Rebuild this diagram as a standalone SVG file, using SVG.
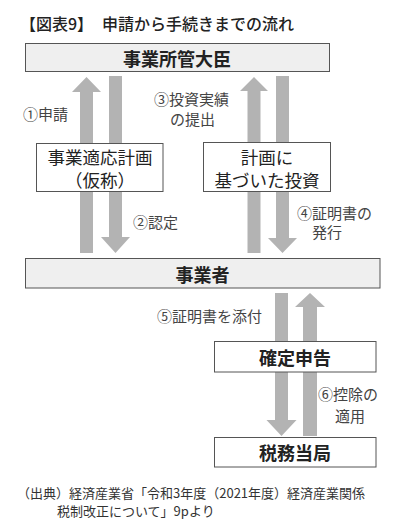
<svg xmlns="http://www.w3.org/2000/svg" width="400" height="532" viewBox="0 0 400 532">
<style>
text{font-family:"Noto Sans CJK JP","Noto Sans",sans-serif;dominant-baseline:central}
.title{font-size:16px;fill:#222;font-weight:500}
.bx{stroke:#555;stroke-width:1}
.gray{fill:#efefef}
.white{fill:#fff}
.bt{font-size:18px;font-weight:bold;fill:#222;text-anchor:middle}
.rt{font-size:17.5px;fill:#222;text-anchor:middle}
.lb{font-size:15px;fill:#444}
.ar{fill:#b3b3b3}
.ft{font-size:13px;fill:#333}
</style>
<text class="title" y="23"><tspan x="20">【図表9】</tspan><tspan x="102">申請から手続きまでの流れ</tspan></text>
<g id="connectors">
<polygon class="ar" points="86.5,77 101,92 93,92 93,253 80,253 80,92 72,92"/>
<polygon class="ar" points="109,76 122,76 122,237 130,237 115.5,253 101,237 109,237"/>
<polygon class="ar" points="254,77 268,91 260.5,91 260.5,253 247.5,253 247.5,91 240,91"/>
<polygon class="ar" points="276,76 289,76 289,238 297,238 282.5,253 268,238 276,238"/>
<polygon class="ar" points="275,293 288,293 288,420 296.5,420 281.5,436 266.5,420 275,420"/>
<polygon class="ar" points="310,293 325,307 317,307 317,436 303,436 303,307 295,307"/>
</g>
<g id="minister">
<rect class="bx gray" x="25.5" y="43.5" width="304" height="28"/>
<text class="bt" x="177" y="57.5">事業所管大臣</text>
</g>
<g id="plan">
<rect class="bx white" x="36.5" y="143.5" width="126.5" height="48"/>
<text class="rt"><tspan x="100" y="155.5">事業適応計画</tspan><tspan x="100" y="178.5">（仮称）</tspan></text>
</g>
<g id="investment">
<rect class="bx white" x="203.5" y="142.5" width="127" height="49"/>
<text class="rt"><tspan x="267" y="156">計画に</tspan><tspan x="267" y="179">基づいた投資</tspan></text>
</g>
<g id="business">
<rect class="bx gray" x="25.5" y="258.5" width="354.5" height="29.5"/>
<text class="bt" x="202.5" y="273.5">事業者</text>
</g>
<g id="return">
<rect class="bx white" x="214.5" y="341.5" width="161.5" height="30.5"/>
<text class="bt" x="295" y="357">確定申告</text>
</g>
<g id="tax">
<rect class="bx white" x="214.5" y="437.5" width="161.5" height="29.5"/>
<text class="bt" x="295" y="452">税務当局</text>
</g>
<g id="labels">
<text class="lb" x="23" y="113">①申請</text>
<text class="lb"><tspan x="154" y="98">③投資実績</tspan><tspan x="170" y="118">の提出</tspan></text>
<text class="lb" x="133" y="221">②認定</text>
<text class="lb"><tspan x="297" y="212">④証明書の</tspan><tspan x="312" y="231">発行</tspan></text>
<text class="lb" x="157" y="315">⑤証明書を添付</text>
<text class="lb"><tspan x="318" y="393">⑥控除の</tspan><tspan x="335" y="415">適用</tspan></text>
</g>
<text class="ft"><tspan x="17" y="491.5">（出典）経済産業省「令和3年度（2021年度）経済産業関係</tspan><tspan x="57" y="509.5">税制改正について」9pより</tspan></text>
</svg>
